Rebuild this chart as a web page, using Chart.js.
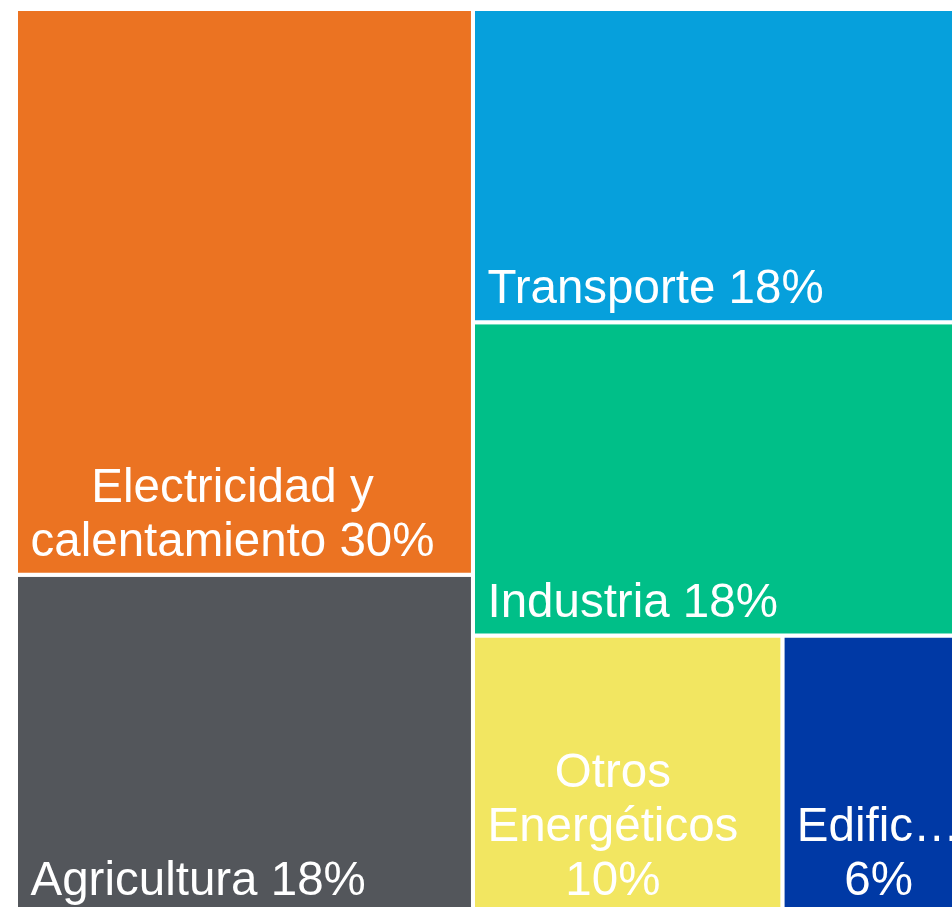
<!DOCTYPE html>
<html>
<head>
<meta charset="utf-8">
<script src="https://cdn.jsdelivr.net/npm/chart.js@4.4.1/dist/chart.umd.min.js"></script>
<style>
  html, body { margin: 0; padding: 0; background: #ffffff; overflow: hidden; width: 952px; height: 907px; }
  #wrap { position: absolute; left: 0; top: 0; }
  canvas { display: block; }
</style>
</head>
<body>
<div id="wrap"><canvas id="c" width="1000" height="930"></canvas></div>
<script>
// ---- data ----
const categories = ['Electricidad y calentamiento', 'Agricultura', 'Transporte', 'Industria', 'Otros Energéticos', 'Edificios'];
const values = [30, 18, 18, 18, 10, 6];
const colors = ['#EB7322', '#53565B', '#06A0DC', '#00BF88', '#F2E661', '#0039A5'];
const labels = categories.map((c, i) => c + ' ' + values[i] + '%');

// ---- canvas / layout ----
const CW = 1000, CH = 930;
const PAD = { left: 16, top: 9, right: CW - 968, bottom: CH - 914 };
const aspect = (CW - PAD.left - PAD.right) / (CH - PAD.top - PAD.bottom);

// squarified treemap layout computed from the values (unit space: width=aspect, height=1)
function sum(a) { return a.reduce((s, v) => s + v, 0); }
function worst(row, side) {
  const s = sum(row), mx = Math.max(...row), mn = Math.min(...row);
  return Math.max(side * side * mx / (s * s), (s * s) / (side * side * mn));
}
function squarify(vals, x, y, w, h) {
  const total = sum(vals);
  const areas = vals.map(v => v * w * h / total);
  const rects = [];
  let i = 0;
  while (i < areas.length) {
    const side = Math.min(w, h);
    let row = [areas[i]];
    let j = i + 1;
    while (j < areas.length) {
      const next = row.concat(areas[j]);
      if (worst(next, side) <= worst(row, side)) { row = next; j++; } else break;
    }
    const rs = sum(row);
    if (w >= h) {
      const cw = rs / h; let yy = y;
      row.forEach(a => { const rh = a / cw; rects.push({ x: x, y: yy, w: cw, h: rh }); yy += rh; });
      x += cw; w -= cw;
    } else {
      const rh = rs / w; let xx = x;
      row.forEach(a => { const rw = a / rh; rects.push({ x: xx, y: y, w: rw, h: rh }); xx += rw; });
      y += rh; h -= rh;
    }
    i = j;
  }
  return rects;
}
const cells = squarify(values, 0, 0, aspect, 1).map(r => ({
  x0: r.x / aspect * 100, x1: (r.x + r.w) / aspect * 100,
  y0: r.y * 100, y1: (r.y + r.h) * 100
}));

const datasets = cells.map((r, i) => ({
  label: labels[i],
  data: [
    { x: r.x0, y: r.y0 }, { x: r.x1, y: r.y0 }, { x: r.x1, y: r.y1 },
    { x: r.x0, y: r.y1 }, { x: r.x0, y: r.y0 }
  ],
  backgroundColor: colors[i],
  borderColor: '#ffffff',
  borderWidth: 4,
  borderCapStyle: 'square',
  borderJoinStyle: 'miter',
  fill: 'shape',
  pointRadius: 0,
  pointHoverRadius: 0,
  tension: 0
}));

// ---- label plugin ----
const FONT_SIZE = 47.5, LINE_H = 54, TXT_PAD_L = 14.5, TXT_PAD_R = 4, BASE_OFF = 19;
function wrapText(ctx, text, maxW) {
  const words = text.split(' ');
  const lines = [];
  let cur = '';
  const fitWord = (w) => {
    if (ctx.measureText(w).width <= maxW) return w;
    let s = w;
    while (s.length > 1 && ctx.measureText(s + '…').width > maxW) s = s.slice(0, -1);
    return s + '…';
  };
  words.forEach(w => {
    const test = cur ? cur + ' ' + w : w;
    if (ctx.measureText(test).width <= maxW) { cur = test; }
    else {
      if (cur) lines.push(cur);
      cur = fitWord(w);
    }
  });
  if (cur) lines.push(cur);
  return lines;
}
const treeLabels = {
  id: 'treeLabels',
  afterDatasetsDraw(chart) {
    const ctx = chart.ctx;
    const xs = chart.scales.x, ys = chart.scales.y;
    ctx.save();
    ctx.font = FONT_SIZE + 'px "Liberation Sans", Arial, sans-serif';
    ctx.fillStyle = '#ffffff';
    ctx.textBaseline = 'alphabetic';
    cells.forEach((r, i) => {
      const left = xs.getPixelForValue(r.x0), right = xs.getPixelForValue(r.x1);
      const bottom = ys.getPixelForValue(r.y1);
      const maxW = right - left - TXT_PAD_L - TXT_PAD_R;
      const lines = wrapText(ctx, labels[i], maxW);
      const blockW = Math.max(...lines.map(l => ctx.measureText(l).width));
      const cx = left + TXT_PAD_L + blockW / 2;
      ctx.textAlign = 'center';
      lines.forEach((l, k) => {
        const yb = bottom - BASE_OFF - (lines.length - 1 - k) * LINE_H;
        ctx.fillText(l, cx, yb);
      });
    });
    ctx.restore();
  }
};

new Chart(document.getElementById('c'), {
  type: 'line',
  data: { datasets: datasets },
  options: {
    responsive: false,
    animation: false,
    events: [],
    layout: { padding: PAD },
    plugins: { legend: { display: false }, tooltip: { enabled: false }, title: { display: false } },
    scales: {
      x: { type: 'linear', min: 0, max: 100, display: false },
      y: { type: 'linear', min: 0, max: 100, reverse: true, display: false }
    }
  },
  plugins: [treeLabels]
});
</script>
</body>
</html>
